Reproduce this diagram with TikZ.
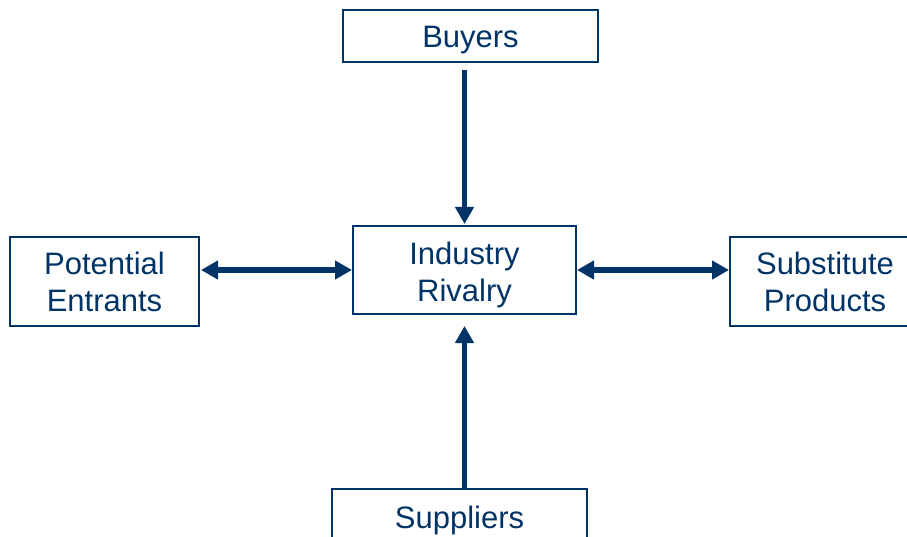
\documentclass[tikz,border=0pt]{standalone}
\usepackage{fontspec}
\setmainfont{Liberation Sans}
\usetikzlibrary{arrows.meta}
\definecolor{navy}{HTML}{003366}
\newcommand\lowtext[2]{\raisebox{-#1}[\height][\depth]{\begin{tabular}{@{}c@{}}#2\end{tabular}}}
\begin{document}
\begin{tikzpicture}[x=1pt,y=-1pt,
  box/.style={draw=navy,line width=1.8pt,text=navy,inner sep=0pt,outer sep=0pt,
    font=\fontsize{31}{37}\selectfont},
  arr/.style={draw=navy,line width=5.5pt,-{Triangle[width=18pt,length=17pt]}},
  darr/.style={draw=navy,line width=5.5pt,{Triangle[width=18pt,length=17pt]}-{Triangle[width=18pt,length=17pt]}}]
\useasboundingbox (0,0) rectangle (907,537);
\node[box,minimum width=255pt,minimum height=52pt] (buyers) at (470.5,36) {\lowtext{4pt}{Buyers}};
\node[box,minimum width=223pt,minimum height=88pt] (industry) at (464.5,270) {\lowtext{6pt}{Industry\\Rivalry}};
\node[box,minimum width=189pt,minimum height=89pt] (potential) at (104.5,281.5) {\lowtext{4pt}{Potential\\Entrants}};
\node[box,minimum width=190pt,minimum height=89pt] (substitute) at (825,281.5) {\lowtext{4pt}{Substitute\\Products}};
\node[box,minimum width=255pt,minimum height=52pt] (suppliers) at (459.5,515) {\lowtext{6pt}{Suppliers}};
\draw[arr,shorten <=8pt,shorten >=2pt] (industry.north |- buyers.south) -- (industry.north);
\draw[arr,shorten <=1pt,shorten >=12pt] (industry.south |- suppliers.north) -- (industry.south);
\draw[darr,shorten <=2pt,shorten >=1pt] (potential.east |- industry.west) -- (industry.west);
\draw[darr,shorten <=1pt,shorten >=1pt] (industry.east) -- (industry.east -| substitute.west);
\end{tikzpicture}
\end{document}
